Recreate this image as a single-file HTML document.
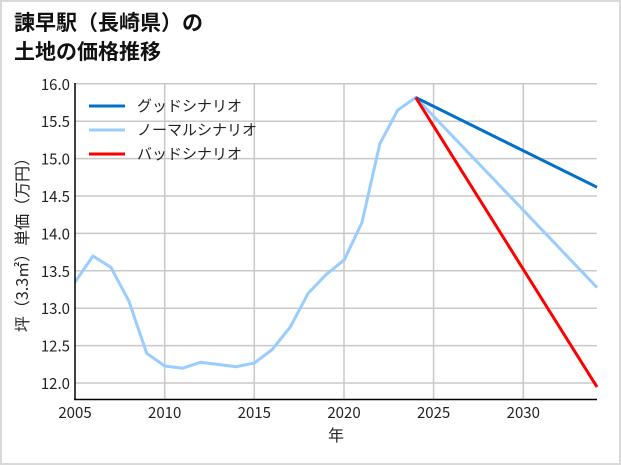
<!DOCTYPE html><html><head><meta charset="utf-8"><style>body{margin:0;background:#fff}svg{display:block;font-family:"Liberation Sans","Noto Sans CJK JP",sans-serif}.n{font-family:"Noto Sans CJK JP","Liberation Sans",sans-serif}</style></head><body>
<svg width="621" height="465" viewBox="0 0 621 465" xmlns="http://www.w3.org/2000/svg">
<rect x="1" y="1" width="619" height="463" fill="#fff" stroke="#d9d9d9" stroke-width="2"/>
<text x="14" y="30" font-size="21" font-weight="bold" fill="#111">諫早駅（長崎県）の</text>
<text x="14" y="59" font-size="21" font-weight="bold" fill="#111">土地の価格推移</text>
<g stroke="#c8c8c8" stroke-width="1.5">
<line x1="75" x2="597" y1="383" y2="383"/><line x1="75" x2="597" y1="345.6" y2="345.6"/><line x1="75" x2="597" y1="308.2" y2="308.2"/><line x1="75" x2="597" y1="270.8" y2="270.8"/><line x1="75" x2="597" y1="233.4" y2="233.4"/><line x1="75" x2="597" y1="196" y2="196"/><line x1="75" x2="597" y1="158.6" y2="158.6"/><line x1="75" x2="597" y1="121.2" y2="121.2"/><line x1="75" x2="597" y1="83.8" y2="83.8"/>
<line x1="164.7" x2="164.7" y1="83" y2="399"/><line x1="254.3" x2="254.3" y1="83" y2="399"/><line x1="344" x2="344" y1="83" y2="399"/><line x1="433.6" x2="433.6" y1="83" y2="399"/><line x1="523.3" x2="523.3" y1="83" y2="399"/>
</g>
<g fill="none" stroke-width="3" stroke-linejoin="round">
<polyline stroke="#99ccff" points="75,282.2 92.9,256 110.9,267.3 128.8,300.9 146.7,353.3 164.7,366 182.6,368.2 200.5,362.3 218.4,364.5 236.4,366.7 254.3,363 272.2,349.5 290.2,327.1 308.1,293.4 326,274.7 344.3,259.8 362,222.4 379.8,143.8 397.7,110.2 415.7,97.5 597,287.5"/>
<polyline stroke="#0070c8" points="415.7,97.5 597,187.2"/>
<polyline stroke="#ff0000" points="415.7,97.5 597,387"/>
</g>
<line x1="75" y1="83" x2="75" y2="400" stroke="#000" stroke-width="1.5"/>
<line x1="74" y1="399.5" x2="597" y2="399.5" stroke="#000" stroke-width="1.5"/>
<g class="n" font-size="15" fill="#222" text-anchor="end">
<text x="70" y="389">12.0</text><text x="70" y="351.6">12.5</text><text x="70" y="314.2">13.0</text><text x="70" y="276.8">13.5</text><text x="70" y="239.4">14.0</text><text x="70" y="202">14.5</text><text x="70" y="164.6">15.0</text><text x="70" y="127.2">15.5</text><text x="70" y="89.8">16.0</text>
</g>
<g class="n" font-size="15" fill="#222" text-anchor="middle">
<text x="75" y="418">2005</text><text x="164.7" y="418">2010</text><text x="254.3" y="418">2015</text><text x="344" y="418">2020</text><text x="433.6" y="418">2025</text><text x="523.3" y="418">2030</text>
<text x="336" y="441" font-size="16">年</text>
</g>
<text class="n" transform="translate(28,241) rotate(-90)" font-size="16" fill="#222" text-anchor="middle">坪（3.3㎡）単価（万円）</text>
<g stroke-width="3"><line x1="89" x2="125" y1="106" y2="106" stroke="#0070c8"/><line x1="89" x2="125" y1="130" y2="130" stroke="#99ccff"/><line x1="89" x2="125" y1="154" y2="154" stroke="#ff0000"/></g>
<g class="n" font-size="15" fill="#222"><text x="137" y="111">グッドシナリオ</text><text x="137" y="135">ノーマルシナリオ</text><text x="137" y="159">バッドシナリオ</text></g>
</svg></body></html>
